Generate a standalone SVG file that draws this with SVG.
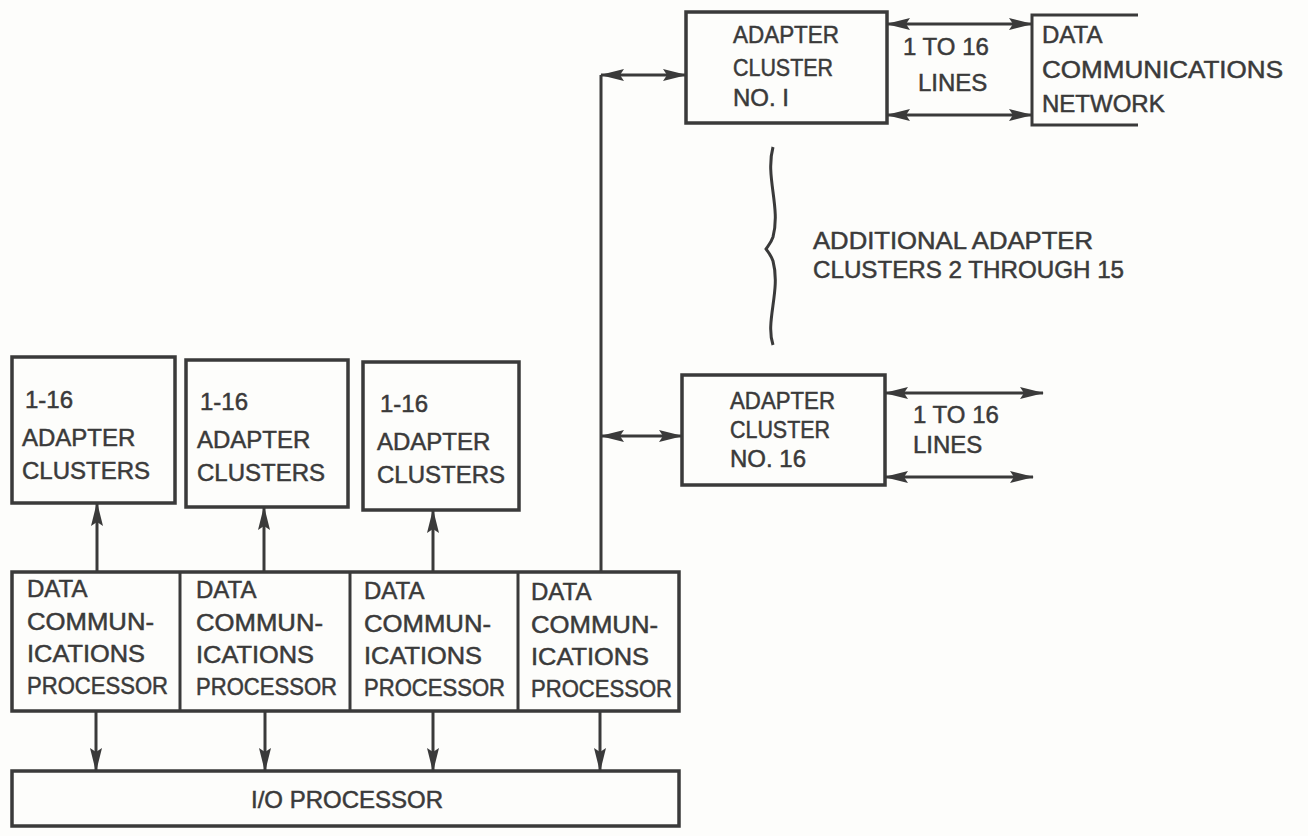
<svg xmlns="http://www.w3.org/2000/svg" width="1308" height="836" viewBox="0 0 1308 836">
<defs>
<marker id="ah" viewBox="0 0 24 12" refX="23" refY="6" markerWidth="24" markerHeight="12" markerUnits="userSpaceOnUse" orient="auto-start-reverse">
<path d="M0,0 L24,6 L0,12 L4,6 Z" fill="#3a3a3a"/>
</marker>
</defs>
<style>
.box{fill:none;stroke:#3a3a3a;stroke-width:3.5}
.ln{fill:none;stroke:#3a3a3a;stroke-width:3}
.t{font-family:"Liberation Sans",Arial,sans-serif;font-size:24px;fill:#3a3a3a;stroke:#3a3a3a;stroke-width:0.5}
.c{text-anchor:middle}
</style>
<rect width="1308" height="836" fill="#fdfdfb"/>

<g id="cluster1">
<rect class="box" x="686" y="12" width="201" height="111"/>
<text class="t" x="733" y="43" textLength="106" lengthAdjust="spacingAndGlyphs">ADAPTER</text>
<text class="t" x="733" y="76" textLength="100" lengthAdjust="spacingAndGlyphs">CLUSTER</text>
<text class="t" x="733" y="106">NO. I</text>
</g>
<g id="lines1-label">
<text class="t" x="903" y="55">1 TO 16</text>
<text class="t" x="918" y="91">LINES</text>
</g>
<g id="network">
<path class="ln" d="M1138,15 L1032,15 L1032,125 L1138,125"/>
<text class="t" x="1042" y="43">DATA</text>
<text class="t" x="1042" y="78" textLength="241" lengthAdjust="spacingAndGlyphs">COMMUNICATIONS</text>
<text class="t" x="1042" y="112">NETWORK</text>
</g>
<g id="additional">
<path class="ln" d="M773,147 C765,177 781,207 773,237 C771,243 768,246 766,249 C768,252 771,255 773,261 C781,291 765,321 773,345"/>
<text class="t" x="813" y="249" textLength="280" lengthAdjust="spacingAndGlyphs">ADDITIONAL ADAPTER</text>
<text class="t" x="813" y="278" textLength="311" lengthAdjust="spacingAndGlyphs">CLUSTERS 2 THROUGH 15</text>
</g>
<g id="cluster16">
<rect class="box" x="682" y="375" width="203" height="110"/>
<text class="t" x="730" y="409" textLength="105" lengthAdjust="spacingAndGlyphs">ADAPTER</text>
<text class="t" x="730" y="438" textLength="100" lengthAdjust="spacingAndGlyphs">CLUSTER</text>
<text class="t" x="730" y="467">NO. 16</text>
</g>
<g id="lines16-label">
<text class="t" x="913" y="423">1 TO 16</text>
<text class="t" x="913" y="453">LINES</text>
</g>
<g id="ac1">
<rect class="box" x="12" y="357" width="163" height="146"/>
<text class="t" x="25" y="408">1-16</text>
<text class="t" x="22" y="446">ADAPTER</text>
<text class="t" x="22" y="479">CLUSTERS</text>
</g>
<g id="ac2">
<rect class="box" x="186" y="360" width="162" height="147"/>
<text class="t" x="200" y="410">1-16</text>
<text class="t" x="197" y="448">ADAPTER</text>
<text class="t" x="197" y="481">CLUSTERS</text>
</g>
<g id="ac3">
<rect class="box" x="363" y="362" width="156" height="148"/>
<text class="t" x="380" y="412">1-16</text>
<text class="t" x="377" y="450">ADAPTER</text>
<text class="t" x="377" y="483">CLUSTERS</text>
</g>
<g id="dcp">
<rect class="box" x="12" y="572" width="667" height="139"/>
<line class="ln" x1="180" y1="572" x2="180" y2="711"/>
<line class="ln" x1="350" y1="572" x2="350" y2="711"/>
<line class="ln" x1="518" y1="572" x2="518" y2="711"/>
<text class="t" x="27" y="597">DATA</text>
<text class="t" x="27" y="630" textLength="127" lengthAdjust="spacingAndGlyphs">COMMUN-</text>
<text class="t" x="27" y="662" textLength="118" lengthAdjust="spacingAndGlyphs">ICATIONS</text>
<text class="t" x="27" y="694" textLength="141" lengthAdjust="spacingAndGlyphs">PROCESSOR</text>
<text class="t" x="196" y="598">DATA</text>
<text class="t" x="196" y="631" textLength="127" lengthAdjust="spacingAndGlyphs">COMMUN-</text>
<text class="t" x="196" y="663" textLength="118" lengthAdjust="spacingAndGlyphs">ICATIONS</text>
<text class="t" x="196" y="695" textLength="141" lengthAdjust="spacingAndGlyphs">PROCESSOR</text>
<text class="t" x="364" y="599">DATA</text>
<text class="t" x="364" y="632" textLength="127" lengthAdjust="spacingAndGlyphs">COMMUN-</text>
<text class="t" x="364" y="664" textLength="118" lengthAdjust="spacingAndGlyphs">ICATIONS</text>
<text class="t" x="364" y="696" textLength="141" lengthAdjust="spacingAndGlyphs">PROCESSOR</text>
<text class="t" x="531" y="600">DATA</text>
<text class="t" x="531" y="633" textLength="127" lengthAdjust="spacingAndGlyphs">COMMUN-</text>
<text class="t" x="531" y="665" textLength="118" lengthAdjust="spacingAndGlyphs">ICATIONS</text>
<text class="t" x="531" y="697" textLength="141" lengthAdjust="spacingAndGlyphs">PROCESSOR</text>
</g>
<g id="iop">
<rect class="box" x="12" y="771" width="667" height="55"/>
<text class="t c" x="347" y="808">I/O PROCESSOR</text>
</g>
<g id="connectors">
<line class="ln" x1="601" y1="75" x2="601" y2="572"/>
<line class="ln" x1="601" y1="75" x2="686" y2="75" marker-start="url(#ah)" marker-end="url(#ah)"/>
<line class="ln" x1="601" y1="436" x2="682" y2="436" marker-start="url(#ah)" marker-end="url(#ah)"/>
<line class="ln" x1="887" y1="24" x2="1032" y2="24" marker-start="url(#ah)" marker-end="url(#ah)"/>
<line class="ln" x1="887" y1="115" x2="1032" y2="115" marker-start="url(#ah)" marker-end="url(#ah)"/>
<line class="ln" x1="885" y1="393" x2="1043" y2="393" marker-start="url(#ah)" marker-end="url(#ah)"/>
<line class="ln" x1="885" y1="477" x2="1033" y2="477" marker-start="url(#ah)" marker-end="url(#ah)"/>
<line class="ln" x1="97" y1="572" x2="97" y2="503" marker-end="url(#ah)"/>
<line class="ln" x1="264" y1="572" x2="264" y2="507" marker-end="url(#ah)"/>
<line class="ln" x1="433" y1="572" x2="433" y2="510" marker-end="url(#ah)"/>
<line class="ln" x1="96" y1="711" x2="96" y2="771" marker-end="url(#ah)"/>
<line class="ln" x1="265" y1="711" x2="265" y2="771" marker-end="url(#ah)"/>
<line class="ln" x1="433" y1="711" x2="433" y2="771" marker-end="url(#ah)"/>
<line class="ln" x1="600" y1="711" x2="600" y2="771" marker-end="url(#ah)"/>
</g>
</svg>
